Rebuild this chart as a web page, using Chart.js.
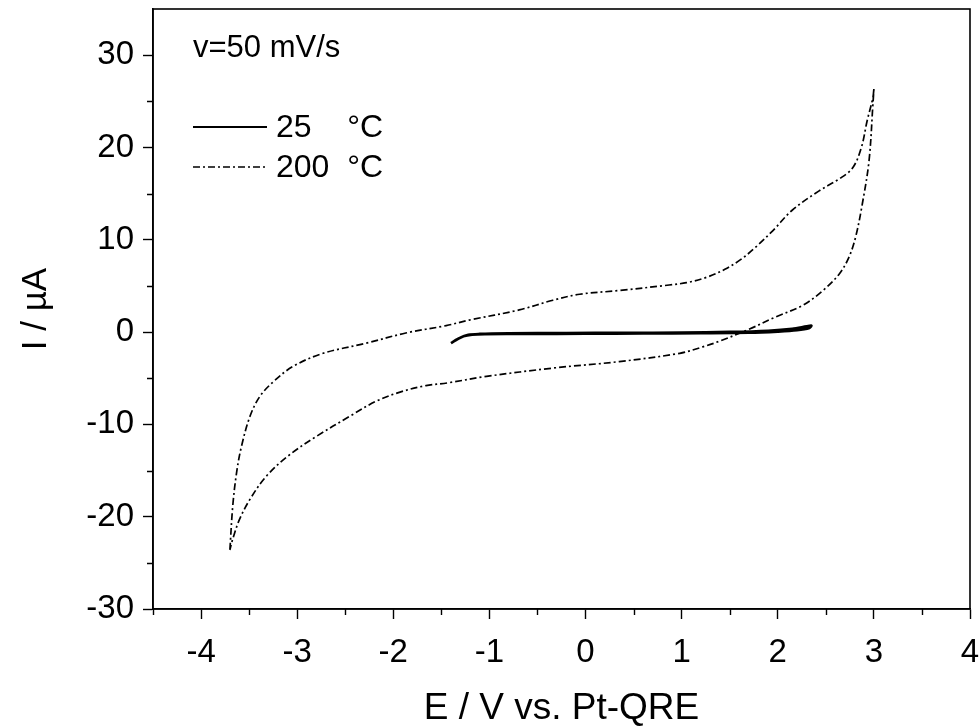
<!DOCTYPE html>
<html>
<head>
<meta charset="utf-8">
<script src="https://cdn.jsdelivr.net/npm/chart.js@4.4.1/dist/chart.umd.min.js"></script>
<style>
  html, body { margin: 0; padding: 0; background: #ffffff; }
  canvas { display: block; }
</style>
</head>
<body>
<canvas id="cv" width="980" height="727"></canvas>
<script>
// ---- data ----
const scanRateLabel = 'v=50 mV/s';
const xTitle = 'E / V vs. Pt-QRE';
const yTitle = 'I / \u00B5A';

const seriesLabels = ['25    \u00B0C', '200  \u00B0C'];

// 25 °C cyclic voltammogram (E / V, I / µA)
const potential25 = [-1.40, -1.34, -1.27, -1.18, -1.05, -0.60, 0.00, 0.60, 1.20, 1.70, 2.00, 2.20, 2.33, 2.35,
                     2.30, 2.15, 1.90, 1.50, 1.00, 0.40, -0.20, -0.80, -1.10, -1.22, -1.32, -1.40];
const current25   = [-1.20, -0.80, -0.45, -0.28, -0.22, -0.20, -0.18, -0.16, -0.13, -0.08, 0.05, 0.20, 0.45, 0.70,
                     0.62, 0.35, 0.15, 0.02, -0.05, -0.08, -0.10, -0.14, -0.20, -0.30, -0.70, -1.20];

// 200 °C cyclic voltammogram (E / V, I / µA)
const potential200 = [-3.70, -3.67, -3.63, -3.58, -3.49, -3.39, -3.25, -3.04, -2.73, -2.28, -1.87, -1.45, -1.21,
                      -0.69, -0.34, -0.06, 0.35, 0.87, 1.05, 1.25, 1.45, 1.62, 1.77, 1.95, 2.15, 2.43, 2.64, 2.78, 2.87,
                      2.93, 2.99, 3.00,
                      2.99, 2.95, 2.88, 2.81, 2.74, 2.64, 2.47, 2.26, 1.98, 1.70, 1.39, 1.22, 0.98, 0.35, -0.34,
                      -1.03, -1.43, -1.66, -1.93, -2.18, -2.45, -2.80, -3.08, -3.32, -3.49, -3.60, -3.67, -3.70];
const current200   = [-23.6, -18.8, -15.2, -12.4, -9.1, -7.0, -5.4, -3.7, -2.3, -1.2, -0.1, 0.7, 1.3,
                      2.4, 3.45, 4.1, 4.5, 5.1, 5.35, 5.9, 6.8, 7.9, 9.2, 11.0, 13.2, 15.3, 16.6, 17.8, 20.0,
                      22.9, 25.4, 26.4,
                      24.7, 18.6, 13.9, 10.3, 8.1, 6.3, 4.5, 2.9, 1.65, 0.3, -1.0, -1.6, -2.3, -3.2, -3.9,
                      -4.8, -5.5, -5.8, -6.5, -7.5, -9.1, -11.3, -13.3, -15.6, -18.1, -20.3, -22.4, -23.6];

// axis ranges and tick steps
const xRange = [-4.5, 4];
const yRange = [-30, 35];
const xStep = 0.5;   // minor step; labels every 1
const yStep = 5;     // minor step; labels every 10

// ---- build datasets ----
function toPoints(xs, ys) { return xs.map((x, i) => ({ x: x, y: ys[i] })); }

const FONT = "'Liberation Sans', Arial, Helvetica, sans-serif";

const isMajorX = v => Math.abs(v - Math.round(v)) < 1e-9;
const isMajorY = v => Math.abs(v / 10 - Math.round(v / 10)) < 1e-9;

const frameAndLegend = {
  id: 'frameAndLegend',
  afterDraw(chart) {
    const ctx = chart.ctx;
    const a = chart.chartArea;
    const xs = chart.scales.x, ys = chart.scales.y;
    ctx.save();
    // frame
    ctx.strokeStyle = '#000';
    ctx.lineWidth = 1.6;
    ctx.setLineDash([]);
    ctx.strokeRect(a.left, a.top, a.right - a.left, a.bottom - a.top);
    // minor ticks
    ctx.lineWidth = 1.4;
    ctx.beginPath();
    xs.ticks.forEach(t => {
      if (!isMajorX(t.value)) {
        const p = Math.round(xs.getPixelForValue(t.value)) + 0.5;
        ctx.moveTo(p, a.bottom); ctx.lineTo(p, a.bottom + 6);
      }
    });
    ys.ticks.forEach(t => {
      if (!isMajorY(t.value) && t.value < yRange[1]) {
        const p = Math.round(ys.getPixelForValue(t.value)) + 0.5;
        ctx.moveTo(a.left, p); ctx.lineTo(a.left - 6, p);
      }
    });
    ctx.stroke();
    // annotation
    ctx.fillStyle = '#000';
    ctx.textBaseline = 'middle';
    ctx.textAlign = 'left';
    ctx.font = '31px ' + FONT;
    ctx.fillText(scanRateLabel, a.left + 40, a.top + 39);
    // legend
    chart.data.datasets.forEach((ds, i) => {
      const y = a.top + 118 + i * 40;
      ctx.beginPath();
      ctx.lineWidth = i === 0 ? 2 : 1.6;
      ctx.setLineDash(ds.borderDash || []);
      ctx.moveTo(a.left + 40, y);
      ctx.lineTo(a.left + 114, y);
      ctx.stroke();
      ctx.setLineDash([]);
      ctx.font = '32px ' + FONT;
      ctx.fillText(ds.label, a.left + 123, y + 1);
    });
    ctx.restore();
  }
};

new Chart(document.getElementById('cv'), {
  type: 'scatter',
  data: {
    datasets: [
      {
        label: seriesLabels[0],
        data: toPoints(potential25, current25),
        showLine: true,
        borderColor: '#000',
        borderWidth: 2.6,
        pointRadius: 0,
        tension: 0.3,
        borderDash: []
      },
      {
        label: seriesLabels[1],
        data: toPoints(potential200, current200),
        showLine: true,
        borderColor: '#000',
        borderWidth: 1.7,
        pointRadius: 0,
        tension: 0.35,
        borderDash: [7, 3, 2, 3]
      }
    ]
  },
  plugins: [frameAndLegend],
  options: {
    responsive: false,
    animation: false,
    devicePixelRatio: 1,
    layout: { padding: { top: 9, right: 10, left: 0, bottom: 0 } },
    plugins: {
      legend: { display: false },
      tooltip: { enabled: false },
      title: { display: false }
    },
    scales: {
      x: {
        type: 'linear',
        min: xRange[0],
        max: xRange[1],
        afterFit(scale) { scale.height = 118; scale.paddingLeft = 0; scale.paddingRight = 0; },
        ticks: {
          stepSize: xStep,
          autoSkip: false,
          maxRotation: 0,
          padding: 14,
          color: '#000',
          font: { family: FONT, size: 33 },
          callback: v => isMajorX(v) ? String(Math.round(v)) : ''
        },
        grid: {
          display: true,
          drawOnChartArea: false,
          drawTicks: true,
          tickLength: 10,
          tickWidth: 1.4,
          tickColor: c => (c.tick && isMajorX(c.tick.value)) ? '#000' : 'rgba(0,0,0,0)'
        },
        border: { display: true, color: '#000', width: 1.6 },
        title: {
          display: true,
          text: xTitle,
          color: '#000',
          font: { family: FONT, size: 37, lineHeight: 1 },
          padding: { top: 0, bottom: 0 }
        }
      },
      y: {
        type: 'linear',
        min: yRange[0],
        max: yRange[1],
        afterFit(scale) { scale.width = 153; scale.paddingTop = 0; scale.paddingBottom = 0; },
        ticks: {
          stepSize: yStep,
          autoSkip: false,
          padding: 9,
          color: '#000',
          font: { family: FONT, size: 33 },
          callback: v => isMajorY(v) ? String(Math.round(v)) : ''
        },
        grid: {
          display: true,
          drawOnChartArea: false,
          drawTicks: true,
          tickLength: 10,
          tickWidth: 1.4,
          tickColor: c => (c.tick && isMajorY(c.tick.value)) ? '#000' : 'rgba(0,0,0,0)'
        },
        border: { display: true, color: '#000', width: 1.6 },
        title: {
          display: true,
          text: yTitle,
          color: '#000',
          font: { family: FONT, size: 35, lineHeight: 1 },
          padding: { top: 19, bottom: 0 }
        }
      }
    }
  }
});
</script>
</body>
</html>
